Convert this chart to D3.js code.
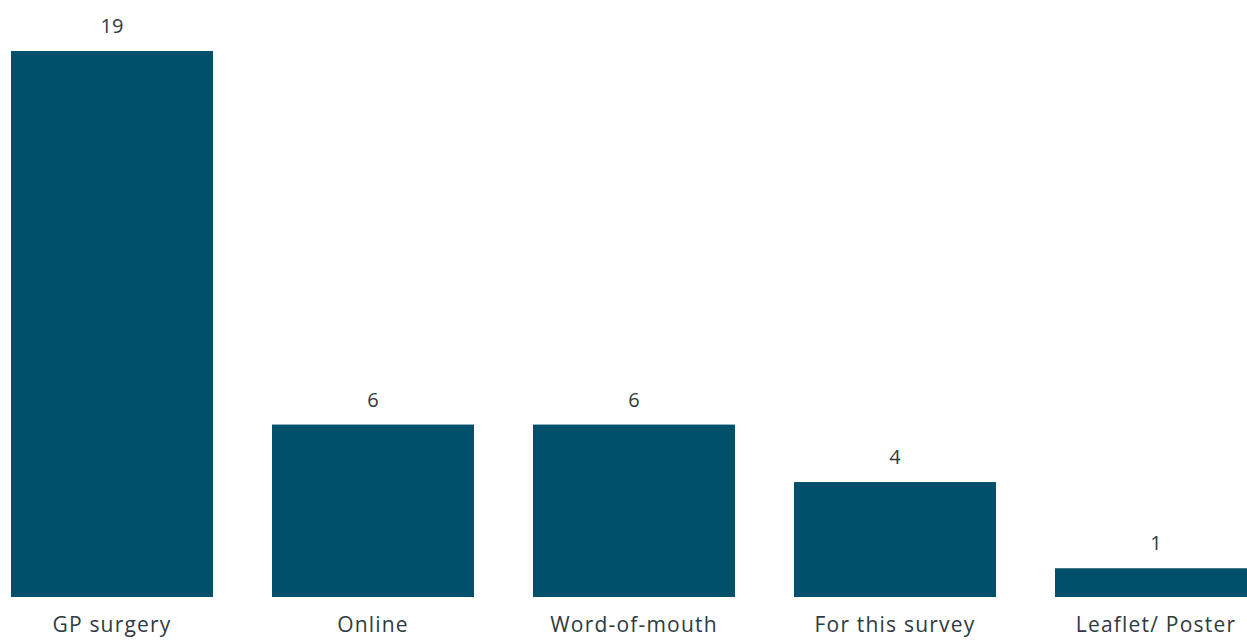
<!DOCTYPE html>
<html>
<head>
<meta charset="utf-8">
<script src="https://cdn.jsdelivr.net/npm/d3@7"></script>
<style>
html,body{margin:0;padding:0;background:#fff;overflow:hidden;}
svg{display:block;}
</style>
</head>
<body>
<svg id="chart" width="1247" height="641"></svg>
<script>
const categories = ["GP surgery", "Online", "Word-of-mouth", "For this survey", "Leaflet/ Poster"];
const values = [19, 6, 6, 4, 1];

const svg = d3.select("#chart");
const x = d3.scaleBand()
  .domain(categories)
  .range([-18.5, 1286.5])
  .paddingInner(0.226)
  .paddingOuter(0.113);
const y = d3.scaleLinear().domain([0, 19]).range([597, 51]);

const data = categories.map((c, i) => ({c, v: values[i]}));

svg.selectAll("rect.bar").data(data).enter().append("rect")
  .attr("class", "bar")
  .attr("x", d => x(d.c))
  .attr("y", d => y(d.v))
  .attr("width", x.bandwidth())
  .attr("height", d => y(0) - y(d.v))
  .attr("fill", "#004f6b");

svg.selectAll("text.val").data(data).enter().append("text")
  .attr("class", "val")
  .attr("x", d => x(d.c) + x.bandwidth() / 2)
  .attr("y", d => y(d.v) - 18)
  .attr("text-anchor", "middle")
  .attr("font-family", "'Open Sans', 'Noto Sans', sans-serif")
  .attr("font-size", 20)
  .attr("fill", "#2f3a42")
  .text(d => d.v);

const xAxis = d3.axisBottom(x).tickSize(0).tickPadding(0);
const g = svg.append("g").attr("transform", "translate(0,597)").call(xAxis);
g.select(".domain").remove();
g.selectAll("text")
  .attr("dy", null)
  .attr("y", 35)
  .attr("font-family", "'Open Sans', 'Noto Sans', sans-serif")
  .attr("font-size", 21)
  .attr("letter-spacing", "1.2px")
  .attr("fill", "#2f3a42");
</script>
</body>
</html>
